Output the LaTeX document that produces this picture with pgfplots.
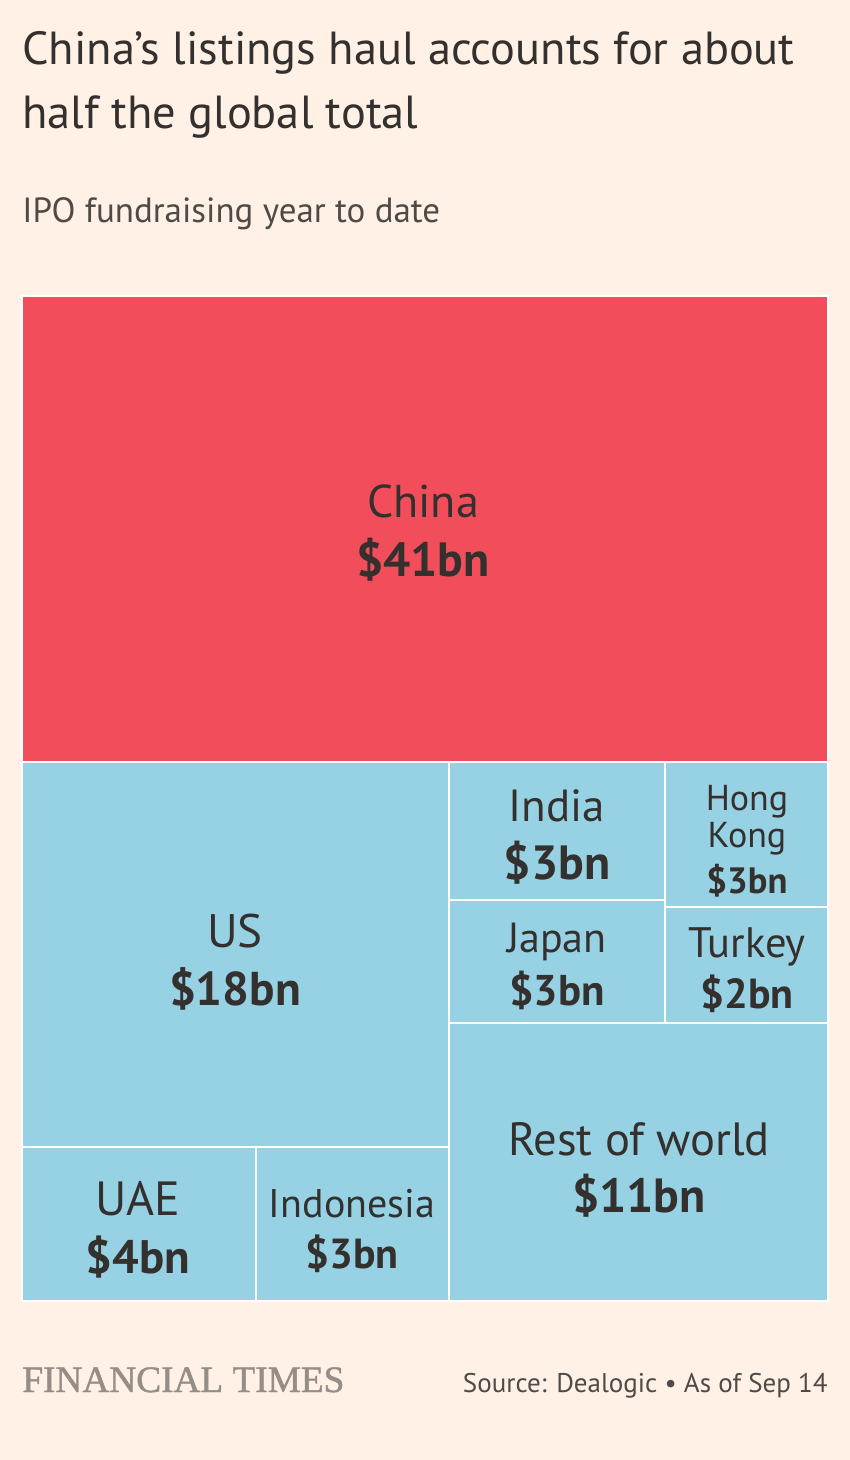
\documentclass[border=0pt]{standalone}
\usepackage{fontspec}
\setmainfont{PT Sans}
\newfontfamily\ftserif[FakeBold=1.2]{Liberation Serif}
\usepackage{pgfplots}
\pgfplotsset{compat=1.18}
\definecolor{bgc}{HTML}{FFF1E5}
\definecolor{redc}{HTML}{F24D5B}
\definecolor{bluec}{HTML}{96D1E4}
\definecolor{txt}{HTML}{33302E}
\definecolor{sub}{HTML}{4F4A46}
\definecolor{ftgray}{HTML}{958D86}
\begin{document}
\begin{tikzpicture}
\begin{axis}[
  width=425pt, height=730pt, scale only axis,
  xmin=0, xmax=850, ymin=0, ymax=1460, y dir=reverse,
  hide axis, clip=false,
]
\fill[bgc] (axis cs:0,0) rectangle (axis cs:850,1460);
% treemap rectangles (pixel layout)
\addplot[fill=redc, draw=white, line width=1.3pt] coordinates {(22,296) (828,296) (828,762) (22,762)} -- cycle;
\addplot[fill=bluec, draw=white, line width=1.3pt] coordinates {(22,762) (449,762) (449,1147) (22,1147)} -- cycle;
\addplot[fill=bluec, draw=white, line width=1.3pt] coordinates {(22,1147) (256,1147) (256,1301) (22,1301)} -- cycle;
\addplot[fill=bluec, draw=white, line width=1.3pt] coordinates {(256,1147) (449,1147) (449,1301) (256,1301)} -- cycle;
\addplot[fill=bluec, draw=white, line width=1.3pt] coordinates {(449,762) (665,762) (665,900) (449,900)} -- cycle;
\addplot[fill=bluec, draw=white, line width=1.3pt] coordinates {(665,762) (828,762) (828,907) (665,907)} -- cycle;
\addplot[fill=bluec, draw=white, line width=1.3pt] coordinates {(449,900) (665,900) (665,1023) (449,1023)} -- cycle;
\addplot[fill=bluec, draw=white, line width=1.3pt] coordinates {(665,907) (828,907) (828,1023) (665,1023)} -- cycle;
\addplot[fill=bluec, draw=white, line width=1.3pt] coordinates {(449,1023) (828,1023) (828,1301) (449,1301)} -- cycle;
% titles
\node[anchor=base west, text=txt, font=\fontsize{23.2}{27}\selectfont, inner sep=0pt] at (axis cs:22,65) {China’s listings haul accounts for about};
\node[anchor=base west, text=txt, font=\fontsize{23.2}{27}\selectfont, inner sep=0pt] at (axis cs:22,128) {half the global total};
\node[anchor=base west, text=sub, font=\fontsize{17.5}{20}\selectfont, inner sep=0pt] at (axis cs:22,222) {IPO fundraising year to date};
% labels
\tikzset{lab/.style={anchor=base, text=txt, inner sep=0pt}}
\node[lab, font=\fontsize{23}{27}\selectfont] at (axis cs:423,517) {China};
\node[lab, font=\fontsize{24}{28}\selectfont\bfseries] at (axis cs:423,576) {\$41bn};
\node[lab, font=\fontsize{23.5}{27}\selectfont] at (axis cs:235,947) {US};
\node[lab, font=\fontsize{23.7}{28}\selectfont\bfseries] at (axis cs:235,1005) {\$18bn};
\node[lab, font=\fontsize{24}{28}\selectfont] at (axis cs:138,1215) {UAE};
\node[lab, font=\fontsize{23.5}{28}\selectfont\bfseries] at (axis cs:138,1273) {\$4bn};
\node[lab, font=\fontsize{20}{24}\selectfont] at (axis cs:352,1217) {Indonesia};
\node[lab, font=\fontsize{21}{25}\selectfont\bfseries] at (axis cs:352,1268) {\$3bn};
\node[lab, font=\fontsize{22.5}{27}\selectfont] at (axis cs:557,821) {India};
\node[lab, font=\fontsize{24}{28}\selectfont\bfseries] at (axis cs:557,879) {\$3bn};
\node[lab, font=\fontsize{18}{22}\selectfont] at (axis cs:747,810) {Hong};
\node[lab, font=\fontsize{18}{22}\selectfont] at (axis cs:747,847) {Kong};
\node[lab, font=\fontsize{18.3}{22}\selectfont\bfseries] at (axis cs:747,893) {\$3bn};
\node[lab, font=\fontsize{21}{25}\selectfont] at (axis cs:557,952) {Japan};
\node[lab, font=\fontsize{21.5}{25}\selectfont\bfseries] at (axis cs:557,1005) {\$3bn};
\node[lab, font=\fontsize{21.3}{25}\selectfont] at (axis cs:747,957) {Turkey};
\node[lab, font=\fontsize{21}{25}\selectfont\bfseries] at (axis cs:747,1008) {\$2bn};
\node[lab, font=\fontsize{23.3}{27}\selectfont] at (axis cs:639,1155) {Rest of world};
\node[lab, font=\fontsize{24}{28}\selectfont\bfseries] at (axis cs:639,1212) {\$11bn};
% footer
\node[anchor=base west, text=ftgray, inner sep=0pt] at (axis cs:22,1392) {\resizebox{161pt}{!}{\ftserif FINANCIAL TIMES}};
\node[anchor=base east, text=sub, font=\fontsize{13.5}{16}\selectfont, inner sep=0pt] at (axis cs:828,1392) {Source: Dealogic • As of Sep 14};
\end{axis}
\end{tikzpicture}
\end{document}
